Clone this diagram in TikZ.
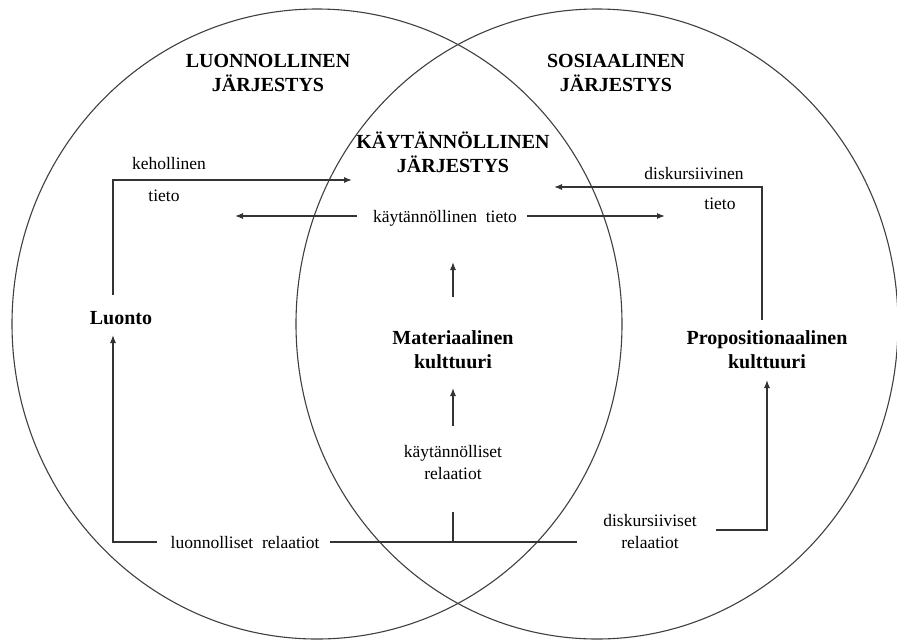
\documentclass[tikz,border=0pt]{standalone}
\usepackage{fontspec}
\setmainfont{Liberation Serif}
\usetikzlibrary{arrows.meta}
\begin{document}
\begin{tikzpicture}[x=1pt,y=-1pt,
  ring/.style={draw, line width=1.1pt, black!75},
  conn/.style={draw, line width=1.2pt, black!80},
  arr/.style={conn, -{Latex[length=8pt,width=6pt]}},
  title/.style={font=\fontsize{20}{24}\selectfont\bfseries, align=center, inner sep=0pt},
  lbl/.style={font=\fontsize{17.5}{22}\selectfont, align=center, inner sep=0pt}]
\useasboundingbox (0,0) rectangle (897,641);
\fill[white] (0,0) rectangle (897,641);
% circles
\draw[ring] (317,324) ellipse [x radius=305, y radius=315];
\draw[ring] (597,324) ellipse [x radius=301, y radius=315];
% titles
\node[title] (lj) at (268,73) {LUONNOLLINEN\\JÄRJESTYS};
\node[title] (sj) at (616,73) {SOSIAALINEN\\JÄRJESTYS};
\node[title] (kj) at (453,152) {KÄYTÄNNÖLLINEN\\JÄRJESTYS};
% culture nodes
\node[title] (luonto) at (121,318) {Luonto};
\node[title] (mat) at (453,350) {Materiaalinen\\kulttuuri};
\node[title] (prop) at (767,350) {Propositionaalinen\\kulttuuri};
% labels
\node[lbl] (keh) at (169,164) {kehollinen};
\node[lbl] (tieto1) at (164,196) {tieto};
\node[lbl] (kt) at (445,218) {käytännöllinen\ \ tieto};
\node[lbl] (disk) at (694,174) {diskursiivinen};
\node[lbl] (tieto2) at (720,204) {tieto};
\node[lbl] (krel) at (453,463) {käytännölliset\\relaatiot};
\node[lbl] (lrel) at (245,543) {luonnolliset\ \ relaatiot};
\node[lbl] (drel) at (650,532) {diskursiiviset\\relaatiot};
% connector coordinates
\coordinate (k1) at (113,295);
\coordinate (k2) at (352,180);
\coordinate (kl1) at (357,216);
\coordinate (kl2) at (235,216);
\coordinate (kr1) at (527,216);
\coordinate (kr2) at (665,216);
\coordinate (d1) at (762,320);
\coordinate (d2) at (554,187);
\coordinate (m1) at (453,297);
\coordinate (m2) at (453,262);
\coordinate (r1) at (453,426);
\coordinate (r2) at (453,388);
\coordinate (l1) at (157,542);
\coordinate (l2) at (113,335);
\coordinate (b1) at (330,542);
\coordinate (b2) at (577,542);
\coordinate (s1) at (453,512);
\coordinate (s2) at (453,542);
\coordinate (p1) at (716,530);
\coordinate (p2) at (767,380);
% connectors
\draw[arr] (k1) |- (k2);
\draw[arr] (kl1) -- (kl2);
\draw[arr] (kr1) -- (kr2);
\draw[arr] (d1) |- (d2);
\draw[arr] (m1) -- (m2);
\draw[arr] (r1) -- (r2);
\draw[arr] (l1) -| (l2);
\draw[conn] (b1) -- (b2);
\draw[conn] (s1) -- (s2);
\draw[arr] (p1) -| (p2);
\end{tikzpicture}
\end{document}
